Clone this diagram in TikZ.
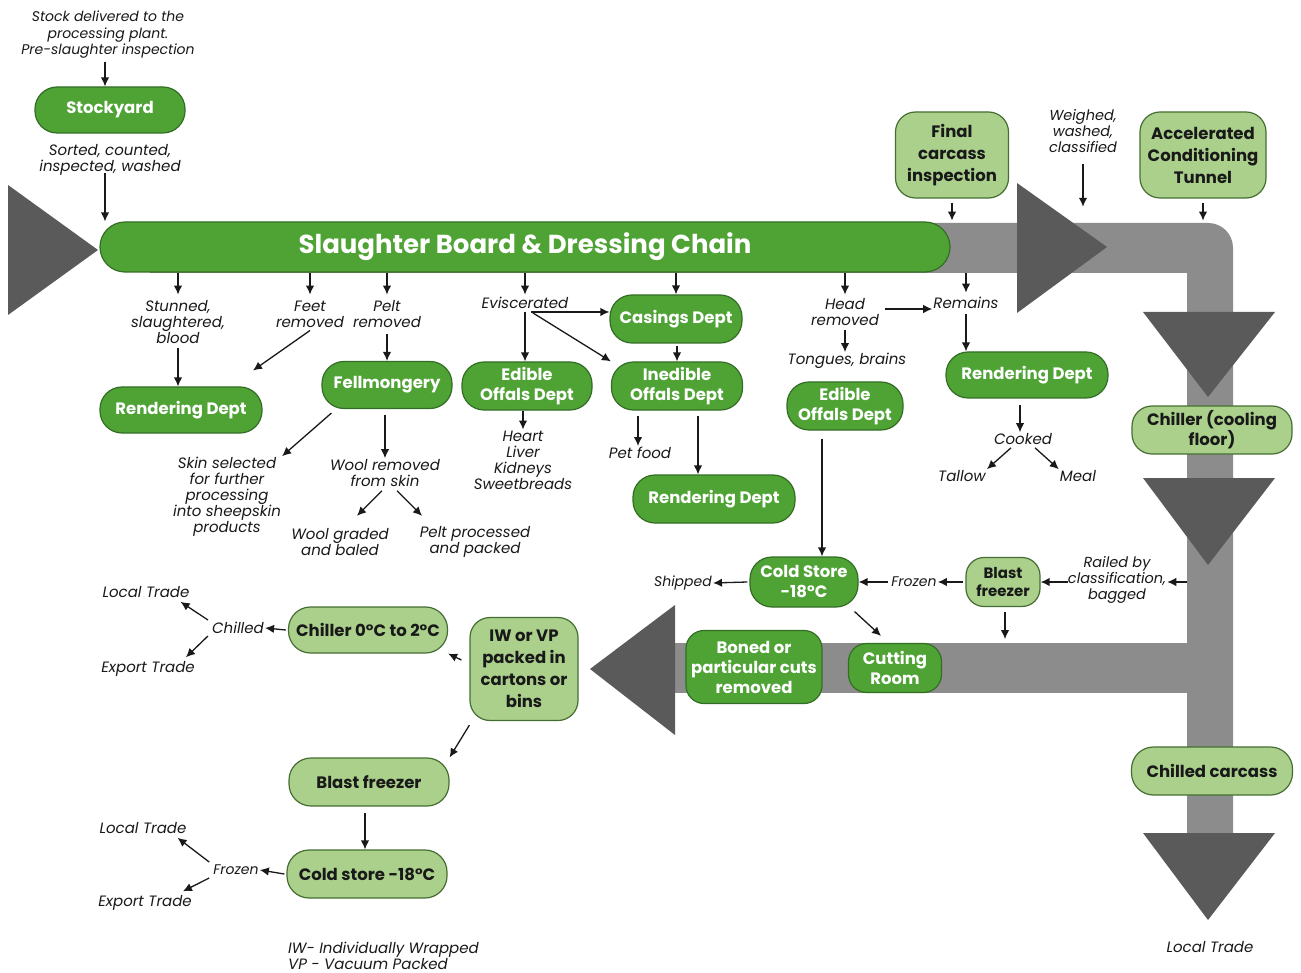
\documentclass[tikz,border=0pt]{standalone}
\usepackage{fontspec}
\setmainfont{Poppins}
\usetikzlibrary{arrows.meta,calc}
\definecolor{dgreen}{RGB}{78,163,52}
\definecolor{dgborder}{RGB}{52,110,38}
\definecolor{lgreen}{RGB}{170,208,140}
\definecolor{lgborder}{RGB}{70,110,50}
\definecolor{band}{RGB}{140,140,140}
\definecolor{tri}{RGB}{90,90,90}
\definecolor{ink}{RGB}{25,25,25}
\tikzset{
  dg/.style={draw=dgborder, line width=1.2pt, fill=dgreen, text=white, rounded corners=22pt,
    font=\bfseries\fontsize{16.5}{20}\selectfont, align=center, inner sep=1pt},
  lg/.style={draw=lgborder, line width=1.2pt, fill=lgreen, text=ink, rounded corners=20pt,
    font=\bfseries\fontsize{16.5}{22}\selectfont, align=center, inner sep=1pt},
  lbl/.style={text=ink, font=\itshape\fontsize{15}{16}\selectfont, align=center, inner sep=1pt},
  arr/.style={draw=ink, line width=1.3pt, -{Latex[length=9pt,width=8.5pt]}},
  tria/.style={fill=tri}
}
\begin{document}
\begin{tikzpicture}[x=1pt,y=-1pt]
\useasboundingbox (0,0) rectangle (1301,973);
\fill[white] (0,0) rectangle (1301,973);

% gray bands
\fill[band] (150,223) -- (1208,223) .. controls (1222,223) and (1233,234) .. (1233,248)
  -- (1233,840) -- (1187,840) -- (1187,273) -- (150,273) -- cycle;
\fill[band] (660,643) rectangle (1190,693);
% triangles
\fill[tria] (8,185) -- (98,250) -- (8,315) -- cycle;
\fill[tria] (1017,183) -- (1107,247) -- (1017,313) -- cycle;
\fill[tria] (1143,312) -- (1275,312) -- (1208,397) -- cycle;
\fill[tria] (1143,478) -- (1275,478) -- (1208,565) -- cycle;
\fill[tria] (1143,833) -- (1275,833) -- (1208,920) -- cycle;
\fill[tria] (675,605) -- (675,735) -- (590,669) -- cycle;

% dark green nodes
\node[dg, minimum width=150pt, minimum height=46pt] (stock) at (110,110) {Stockyard};
\node[dg, minimum width=850pt, minimum height=50pt, rounded corners=25pt,
  font=\bfseries\fontsize{26}{30}\selectfont] (bar) at (525,247) {Slaughter Board \& Dressing Chain};
\node[dg, minimum width=162pt, minimum height=46pt] (rendL) at (181,410) {Rendering Dept};
\node[dg, minimum width=130pt, minimum height=47pt] (fell) at (387,385) {Fellmongery};
\node[dg, minimum width=130pt, minimum height=48pt] (edo1) at (527,386) {Edible\\Offals Dept};
\node[dg, minimum width=132pt, minimum height=48pt] (cas) at (676,319) {Casings Dept};
\node[dg, minimum width=131pt, minimum height=48pt] (ined) at (677,386) {Inedible\\Offals Dept};
\node[dg, minimum width=162pt, minimum height=48pt] (rendM) at (714,499) {Rendering Dept};
\node[dg, minimum width=116pt, minimum height=48pt] (edo2) at (845,406) {Edible\\Offals Dept};
\node[dg, minimum width=162pt, minimum height=46pt] (rendR) at (1027,375) {Rendering Dept};
\node[dg, minimum width=108pt, minimum height=50pt] (cold1) at (804,582) {Cold Store\\-18°C};
\node[dg, minimum width=136pt, minimum height=73pt, rounded corners=18pt] (boned) at (754,667) {Boned or\\particular cuts\\removed};
\node[dg, minimum width=93pt, minimum height=49pt, rounded corners=18pt] (cut) at (895,668) {Cutting\\Room};

% light green nodes
\node[lg, minimum width=113pt, minimum height=86pt] (final) at (952,155) {Final\\carcass\\inspection};
\node[lg, minimum width=126pt, minimum height=86pt] (accel) at (1203,155) {Accelerated\\Conditioning\\Tunnel};
\node[lg, minimum width=160pt, minimum height=48pt, font=\bfseries\fontsize{16.5}{20}\selectfont] (chcf) at (1212,430) {Chiller (cooling\\floor)};
\node[lg, minimum width=161pt, minimum height=48pt, rounded corners=22pt] (chc) at (1212,771) {Chilled carcass};
\node[lg, minimum width=74pt, minimum height=49pt, rounded corners=18pt, font=\bfseries\fontsize{15}{18}\selectfont] (bf1) at (1003,582) {Blast\\freezer};
\node[lg, minimum width=159pt, minimum height=46pt, rounded corners=22pt] (ch02) at (368,630) {Chiller 0°C to 2°C};
\node[lg, minimum width=108pt, minimum height=103pt, rounded corners=20pt] (iw) at (524,669) {IW or VP\\packed in\\cartons or\\bins};
\node[lg, minimum width=160pt, minimum height=48pt, rounded corners=22pt] (bf2) at (369,782) {Blast freezer};
\node[lg, minimum width=160pt, minimum height=48pt, rounded corners=22pt] (cold2) at (367,874) {Cold store -18°C};

% labels
\node[lbl, font=\itshape\fontsize{14}{16.5}\selectfont] (lstock) at (108,35) {Stock delivered to the\\processing plant.\\Pre-slaughter inspection};
\node[lbl] (lsort) at (110,160) {Sorted, counted,\\inspected, washed};
\node[lbl] (stun) at (178,322) {Stunned,\\slaughtered,\\blood};
\node[lbl] (feet) at (310,314) {Feet\\removed};
\node[lbl] (pelt) at (387,314) {Pelt\\removed};
\node[lbl] (evis) at (525,303) {Eviscerated};
\node[lbl] (heart) at (523,460) {Heart\\Liver\\Kidneys\\Sweetbreads};
\node[lbl] (skin) at (227,497) {Skin selected\\for further\\processing\\into sheepskin\\products};
\node[lbl] (woolr) at (385,473) {Wool removed\\from skin};
\node[lbl] (woolg) at (340,542) {Wool graded\\and baled};
\node[lbl] (peltp) at (475,542) {Pelt processed\\and packed};
\node[lbl] (pet) at (640,453) {Pet food};
\node[lbl] (head) at (845,312) {Head\\removed};
\node[lbl] (rem) at (966,303) {Remains};
\node[lbl] (tong) at (847,361) {Tongues, brains};
\node[lbl] (cook) at (1023,439) {Cooked};
\node[lbl] (tal) at (962,476) {Tallow};
\node[lbl] (meal) at (1078,476) {Meal};
\node[lbl, font=\itshape\fontsize{14.5}{16}\selectfont] (weig) at (1083,131) {Weighed,\\washed,\\classified};
\node[lbl, font=\itshape\fontsize{14.5}{16}\selectfont] (rail) at (1117,580) {Railed by\\classification,\\bagged};
\node[lbl, font=\itshape\fontsize{14}{16}\selectfont] (froz1) at (914,582) {Frozen};
\node[lbl, font=\itshape\fontsize{14}{16}\selectfont] (ship) at (683,583) {Shipped};
\node[lbl] (chil) at (238,628) {Chilled};
\node[lbl] (loc1) at (146,592) {Local Trade};
\node[lbl] (exp1) at (148,669) {Export Trade};
\node[lbl, font=\itshape\fontsize{14}{16}\selectfont] (froz2) at (236,870) {Frozen};
\node[lbl] (loc2) at (143,828) {Local Trade};
\node[lbl] (exp2) at (145,903) {Export Trade};
\node[lbl, align=left, anchor=north west] (note) at (287,941) {IW- Individually Wrapped\\VP - Vacuum Packed};
\node[lbl] (locR) at (1210,947) {Local Trade};
\coordinate (vband) at (1187,582);

% arrows
\draw[arr] (lstock.south -| stock) ++(-5,2) coordinate (a1) -- (a1 |- stock.north);
\draw[arr] (lsort.south) ++(-5,-4) coordinate (a2) -- (a2 |- bar.north);
\draw[arr] (bar.south -| stun) -- ++(0,22);
\draw[arr] (stun.south) ++(0,3) -- (stun.south |- rendL.north);
\draw[arr] (bar.south -| feet) -- ++(0,22);
\draw[arr] (feet.south) ++(0,2) -- ++(-57,40);
\draw[arr] (bar.south -| pelt) -- ++(0,22);
\draw[arr] (pelt.south) ++(0,5) -- (pelt.south |- fell.north);
\draw[arr] (fell.south west) ++(10,4) -- (skin.north east);
\draw[arr] (fell.south) ++(-2,6) coordinate (a3) -- (a3 |- woolr.north);
\draw[arr] (woolr.south) ++(-3,3) -- ++(-25,25);
\draw[arr] (woolr.south) ++(12,3) -- ++(25,25);
\draw[arr] (bar.south -| evis) -- ++(0,22);
\draw[arr] (evis.south) ++(0,2) -- (evis.south |- edo1.north);
\draw[arr] (evis.south) ++(6,2) coordinate (a4) -- (a4 -| cas.west);
\draw[arr] (evis.south) ++(8,3) -- (ined.north west);
\draw[arr] (edo1.south -| heart) -- (heart.north);
\draw[arr] (bar.south -| cas) -- (cas.north);
\draw[arr] (cas.south) ++(1,2) coordinate (a5) -- (a5 |- ined.north);
\draw[arr] (ined.south) ++(-39,5) coordinate (a6) -- (a6 |- pet.north);
\draw[arr] (ined.south) ++(21,5) coordinate (a7) -- (a7 |- rendM.north);
\draw[arr] (bar.south -| head) -- ++(0,22);
\draw[arr] (head.east) ++(5,-3) coordinate (a8) -- (a8 -| rem.west);
\draw[arr] (head.south) ++(0,3) -- (tong.north -| head);
\draw[arr] (rem |- bar.south) -- ++(0,20);
\draw[arr] (rem.south) ++(0,4) -- (rem.south |- rendR.north);
\draw[arr] (rendR.south) ++(-7,6) coordinate (a9) -- (a9 |- cook.north);
\draw[arr] (cook.south) ++(-12,2) -- (tal.north east);
\draw[arr] (cook.south) ++(12,2) -- (meal.north west);
\draw[arr] (final.south) ++(0,4) -- ++(0,18);
\draw[arr] (weig.south) ++(0,10) -- ++(0,43);
\draw[arr] (accel.south) ++(0,4) -- ++(0,18);
\draw[arr] (edo2.south) ++(-23,8) coordinate (a10) -- (a10 |- cold1.north);
\draw[arr] (cold1.west) ++(-2,0) -- (ship.east);
\draw[arr] (froz1.west) ++(-2,0) -- (cold1.east);
\draw[arr] (bf1.west) ++(-2,0) -- (froz1.east);
\draw[arr] (rail.west |- bf1) ++(1,0) -- (bf1.east);
\draw[arr] (vband) -- (rail.east |- vband);
\draw[arr] (bf1.south) ++(2,5) -- ++(0,27);
\draw[arr] ($(cold1.south east)+(-4,4)$) -- ($(cut.north)+(-14,-7)$);
\draw[arr] (iw.west) ++(-8,-9) -- (ch02.south east);
\draw[arr] (ch02.west) ++(-2,0) -- (chil.east);
\draw[arr] (chil.west) ++(-3,-8) -- ($(loc1.south east)+(-10,3)$);
\draw[arr] (chil.west) ++(-3,8) -- ($(exp1.north east)+(-10,-3)$);
\draw[arr] (iw.south west) ++(0,4) -- (bf2.north east);
\draw[arr] (bf2.south) ++(-4,6) coordinate (a11) -- (a11 |- cold2.north);
\draw[arr] (cold2.west) ++(-2,0) -- (froz2.east);
\draw[arr] (froz2.west) ++(-3,-8) -- ($(loc2.south east)+(-10,3)$);
\draw[arr] (froz2.west) ++(-3,8) -- ($(exp2.north east)+(-10,-3)$);
\end{tikzpicture}
\end{document}
